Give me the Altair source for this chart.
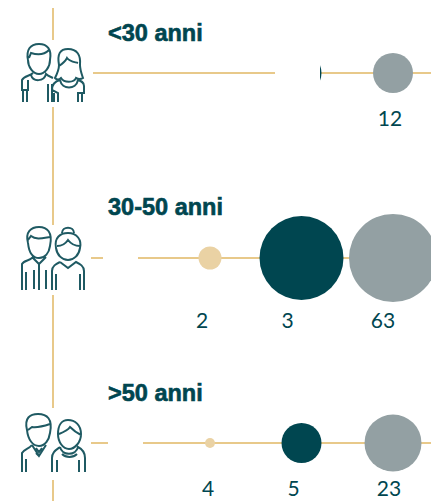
import re
import altair as alt
import pandas as pd

M = 8  # page margin
groups = ["<30 anni", "30-50 anni", ">50 anni"]
bubble_row = [0, 0, 1, 1, 1, 2, 2, 2]
bubble_col = [1, 2, 0, 1, 2, 0, 1, 2]
bubble_series = ["dark", "grey", "tan", "dark", "grey", "tan", "dark", "grey"]
bubble_weight = [13.0, 13.0, 4.3, 57.4, 63.0, 0.8, 13.0, 26.4]
label_text = ["12", "2", "3", "63", "4", "5", "23"]
label_row = [0, 1, 1, 1, 2, 2, 2]
label_col = [2, 0, 1, 2, 0, 1, 2]
label_nudge = [-3, -8, -14, -10, -2, -8, -4]
label_drop = [47, 64, 64, 64, 47, 47, 47]

DARK, GREY, TAN, LINE, INK = "#004650", "#93A0A3", "#EAD2A4", "#E8C98A", "#1F5A63"

def rel(path, cx, cy):
    def f(m):
        return f"{float(m.group(1))-cx:.1f} {float(m.group(2))-cy:.1f}"
    return re.sub(r"(-?[\d.]+)[ ,]+(-?[\d.]+)", f, path)

icon1 = ("M28 60C26 50 30 44 39 44C47 44 52 49 50 60C50 67 45 74 39 74C33 74 28 67 28 60"
 "M29 58L31 53C37 55 44 55 49 50"
 "M33 73C30 76 24 76 22 80L22 90L28 90L28 80M23 90L23 102M27 90L27 102"
 "M31 75C33 82 44 82 46 74C48 76 51 77 53 78"
 "M48 84L48 102M52 84L52 102"
 "M59 65C57 54 60 49 68 49C77 49 81 55 80 65C80 70 82 75 83 78C80 80 78 79 76 78C74 83 64 83 61 78C59 80 57 80 55 78C57 74 59 70 59 65"
 "M59 66C62 64 65 62 67 58C70 62 75 62 78 63"
 "M60 80C62 90 76 90 78 80C81 81 84 82 84 86L84 93L78 93L78 102M82 93L82 102"
 "M60 80C56 81 52 83 52 90L58 93L58 102M54 93L54 102")
icon2 = ("M28 243C25 232 31 227 39 227C47 227 53 232 50 246C49 253 45 258 39 258C33 258 29 253 28 243"
 "M28 240L31 236C36 240 43 238 50 237"
 "M33 257C30 261 24 260 22 264L22 290M26 272L26 290"
 "M33 258L39 264L46 257M39 264L39 290"
 "M34 270L34 289M46 270L46 289"
 "M34 274L34 277M34 280L34 283"
 "M56 248C54 238 60 233 68 233C77 233 82 240 80 248C79 255 74 260 68 260C62 260 57 255 56 248"
 "M62 233C62 226 74 226 74 233"
 "M57 246C62 246 66 243 68 240C71 244 76 246 80 246"
 "M60 262L68 268L76 262C80 264 84 266 84 271L84 290M80 274L80 290"
 "M60 262C56 264 52 266 52 271L52 290M56 274L56 290")
icon3 = ("M27 430C24 418 30 414 38 414C47 414 53 419 50 433C49 440 45 446 39 446C33 446 28 440 27 430"
 "M28 430L32 427C38 428 44 426 50 424"
 "M32 445C29 449 24 449 22 453L22 472M26 459L26 472"
 "M32 445L39 456L46 445M36 448L39 452L42 448"
 "M36 453L39 456"
 "M58 434C58 425 62 420 68 420C75 420 81 425 81 434C81 442 75 449 69 449C63 449 58 442 58 434"
 "M59 434C64 432 68 430 70 427C73 430 77 433 81 435"
 "M60 447C56 450 52 452 52 458L52 472M57 460L57 472"
 "M60 447C62 456 76 456 78 447C82 449 85 452 85 458L85 472M79 460L79 472"
 "M62 454C66 458 73 458 77 454")

bubbles = pd.DataFrame({"row": bubble_row, "col": bubble_col, "series": bubble_series, "weight": bubble_weight})
labels = pd.DataFrame({"t": label_text, "row": label_row, "col": label_col, "n": label_nudge, "d": label_drop})
labels["c"] = labels["col"] + labels["n"] / 91.5
labels["r"] = labels["row"] + labels["d"] / 185

xs = alt.Scale(domain=[0, 2], range=[210 - M, 393 - M])
ys = alt.Scale(domain=[0, 2], range=[73 - M, 443 - M])

def seg(x1, y1, x2, y2):
    return alt.Chart(pd.DataFrame({"a": [0]})).mark_rule(color=LINE, strokeWidth=2).encode(
        x=alt.value(x1 - M), x2=alt.value(x2 - M), y=alt.value(y1 - M), y2=alt.value(y2 - M))

def box(x1, y1, x2, y2):
    return alt.Chart(pd.DataFrame({"a": [0]})).mark_rect(color="white").encode(
        x=alt.value(x1 - M), x2=alt.value(x2 - M), y=alt.value(y1 - M), y2=alt.value(y2 - M))

def icon(path, cx, cy):
    return alt.Chart(pd.DataFrame({"a": [0]})).mark_point(
        shape=rel(path, cx, cy), size=4, filled=False, stroke=INK, strokeWidth=2, opacity=1
    ).encode(x=alt.value(cx - M), y=alt.value(cy - M))

lines = [seg(53, 7, 53, 501), seg(93, 73, 439, 73), seg(91, 258, 439, 258), seg(91, 443, 439, 443)]

circles = alt.Chart(bubbles).mark_circle(opacity=1).encode(
    x=alt.X("col:Q", scale=xs, axis=None),
    y=alt.Y("row:Q", scale=ys, axis=None),
    size=alt.Size("weight:Q", legend=None, scale=alt.Scale(domain=[0, 63], range=[0, 88 * 88])),
    color=alt.Color("series:N", legend=None,
                    scale=alt.Scale(domain=["tan", "dark", "grey"], range=[TAN, DARK, GREY])),
)

masks = [box(275, 52, 320, 93), box(103, 246, 138, 270), box(108, 432, 143, 455),
         box(26, 40, 76, 107), box(26, 225, 76, 295), box(26, 408, 76, 480)]

text = alt.Chart(labels).mark_text(font="Lato", fontSize=21, color=DARK, align="center", baseline="middle").encode(
    x=alt.X("c:Q", scale=xs, axis=None), y=alt.Y("r:Q", scale=ys, axis=None), text="t:N")

head_df = pd.DataFrame({"g": groups, "r": [0, 1, 2]})
head_x = 108
head_offsets = [-39, -50, -49]
heads = [alt.Chart(head_df.iloc[[i]]).mark_text(
    font="Liberation Sans", fontWeight="bold", fontSize=23.5, color=DARK, stroke=DARK, strokeWidth=0.6,
    align="left", baseline="middle", dy=head_offsets[i]
).encode(x=alt.value(head_x - M), y=alt.Y("r:Q", scale=ys, axis=None), text="g:N") for i in range(3)]

icons = [icon(icon1, 53, 73), icon(icon2, 53, 258), icon(icon3, 53, 443)]

chart = alt.layer(*lines, circles, *masks, text, *heads, *icons).properties(
    width=423, height=493, padding=0, autosize=alt.AutoSizeParams(type="none")
).configure_view(stroke=None)

chart.save("out.html", embed_options={"renderer": "svg", "actions": False})
